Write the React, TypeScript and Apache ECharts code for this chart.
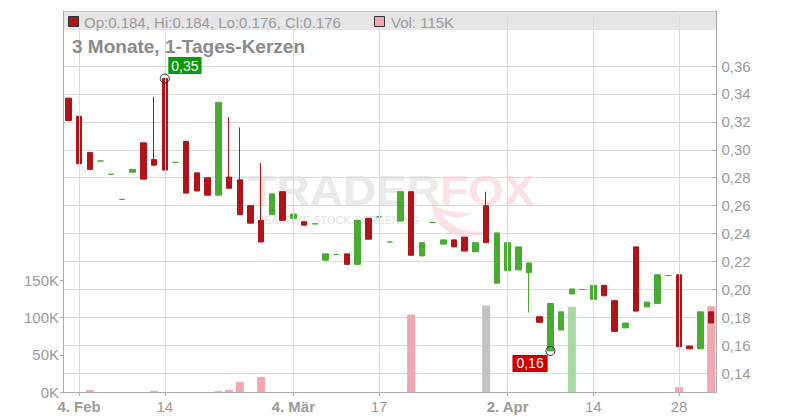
import React, { useEffect, useRef } from 'react';
import * as echarts from 'echarts';

// ---------- data ----------
const dates = [
  '2025-02-03', '2025-02-04', '2025-02-05', '2025-02-06', '2025-02-07', '2025-02-10', '2025-02-11', '2025-02-12', '2025-02-13', '2025-02-14',
  '2025-02-17', '2025-02-18', '2025-02-19', '2025-02-20', '2025-02-21', '2025-02-24', '2025-02-25', '2025-02-26', '2025-02-27', '2025-02-28',
  '2025-03-03', '2025-03-04', '2025-03-05', '2025-03-06', '2025-03-07', '2025-03-10', '2025-03-11', '2025-03-12', '2025-03-13', '2025-03-17',
  '2025-03-18', '2025-03-19', '2025-03-20', '2025-03-21', '2025-03-24', '2025-03-25', '2025-03-26', '2025-03-27', '2025-03-28', '2025-03-31',
  '2025-04-01', '2025-04-02', '2025-04-03', '2025-04-04', '2025-04-07', '2025-04-08', '2025-04-09', '2025-04-10', '2025-04-11', '2025-04-14',
  '2025-04-15', '2025-04-16', '2025-04-17', '2025-04-22', '2025-04-23', '2025-04-24', '2025-04-25', '2025-04-28', '2025-04-29', '2025-04-30',
  '2025-05-02',
];

const opens = [
  0.337, 0.324, 0.298, 0.292, 0.2825, 0.2645, 0.284, 0.305, 0.293, 0.351,
  0.291, 0.306, 0.2835, 0.280, 0.2675, 0.2805, 0.2785, 0.260, 0.2495, 0.2535,
  0.270, 0.251, 0.2485, 0.247, 0.221, 0.225, 0.2255, 0.218, 0.251, 0.252,
  0.234, 0.249, 0.270, 0.224, 0.248, 0.2325, 0.2355, 0.2375, 0.227, 0.260,
  0.2045, 0.2135, 0.214, 0.212, 0.1805, 0.156, 0.171, 0.1968, 0.200, 0.193,
  0.203, 0.192, 0.1725, 0.2305, 0.1875, 0.190, 0.210, 0.2105, 0.1595, 0.1575,
  0.184,
];
const closes = [
  0.321, 0.290, 0.286, 0.292, 0.2825, 0.2645, 0.286, 0.279, 0.289, 0.2855,
  0.291, 0.269, 0.2705, 0.2675, 0.334, 0.2725, 0.2535, 0.2475, 0.234, 0.2685,
  0.2495, 0.254, 0.246, 0.247, 0.2255, 0.225, 0.218, 0.2495, 0.236, 0.252,
  0.234, 0.270, 0.2245, 0.2335, 0.248, 0.2355, 0.2305, 0.2275, 0.2335, 0.2335,
  0.2405, 0.2335, 0.2305, 0.219, 0.1765, 0.190, 0.184, 0.2004, 0.200, 0.203,
  0.1955, 0.170, 0.176, 0.1845, 0.191, 0.2105, 0.210, 0.159, 0.1575, 0.184,
  0.176,
];
const lows = [
  0.321, 0.290, 0.286, 0.292, 0.2825, 0.2645, 0.284, 0.279, 0.289, 0.2855,
  0.291, 0.269, 0.2705, 0.2675, 0.2675, 0.2725, 0.2535, 0.2475, 0.234, 0.2535,
  0.2495, 0.251, 0.246, 0.247, 0.221, 0.225, 0.218, 0.218, 0.236, 0.252,
  0.234, 0.249, 0.2245, 0.224, 0.248, 0.2325, 0.2305, 0.2275, 0.227, 0.2335,
  0.2045, 0.2135, 0.214, 0.1835, 0.1765, 0.156, 0.171, 0.1968, 0.200, 0.193,
  0.1955, 0.170, 0.1725, 0.1845, 0.1875, 0.190, 0.210, 0.159, 0.1575, 0.1575,
  0.176,
];
const highs = [
  0.337, 0.324, 0.298, 0.292, 0.2825, 0.2645, 0.286, 0.305, 0.338, 0.351,
  0.291, 0.306, 0.2835, 0.280, 0.334, 0.3235, 0.316, 0.260, 0.2905, 0.2685,
  0.270, 0.254, 0.2485, 0.247, 0.2255, 0.225, 0.2255, 0.2495, 0.251, 0.252,
  0.234, 0.270, 0.270, 0.2335, 0.248, 0.2355, 0.2355, 0.2375, 0.2335, 0.270,
  0.2405, 0.2335, 0.2305, 0.219, 0.1805, 0.190, 0.184, 0.2004, 0.200, 0.203,
  0.203, 0.192, 0.176, 0.2305, 0.191, 0.2105, 0.210, 0.211, 0.1595, 0.184,
  0.184,
];
const volumes = [
  0, 0, 2700, 0, 0, 0, 0, 0, 1500, 0,
  0, 0, 0, 0, 1300, 3000, 13500, 0, 20000, 0,
  0, 0, 0, 0, 0, 0, 0, 0, 0, 0,
  0, 0, 104000, 0, 0, 0, 0, 0, 0, 116000,
  0, 0, 0, 0, 0, 0, 0, 114500, 0, 0,
  0, 0, 0, 0, 0, 0, 0, 6500, 0, 0,
  115000,
];

const tickDates = ['2025-02-04', '2025-02-14', '2025-03-04', '2025-03-17', '2025-04-02', '2025-04-14', '2025-04-28'];
const tickLabels = ['4. Feb', '14', '4. Mär', '17', '2. Apr', '14', '28'];

const TITLE = '3 Monate, 1-Tages-Kerzen';

// ---------- style ----------
const FONT = '"Liberation Sans", Arial, sans-serif';
const UP = '#4aab33';
const DOWN = '#b11418';
const VOL_UP = '#a9dba6';
const VOL_DOWN = '#f0a7b0';
const VOL_FLAT = '#c2c2c2';
const GRID_C = '#dcdcdc';
const AXIS_C = '#aaaaaa';
const TXT = '#9a9a9a';

echarts.graphic.registerShape(
  'swoosh',
  echarts.graphic.extendPath(
    'M0,0 C2,26 28,40 58,26 C34,30 14,20 8,6 C18,14 30,14 40,8 C26,8 12,6 0,0 Z',
    {}
  ) as any
);

export default function App() {
  const ref = useRef<HTMLDivElement>(null);

  useEffect(() => {
    if (!ref.current) return;
    const chart = echarts.init(ref.current, undefined, { renderer: 'svg' });

    const L = 63;
    const GW = 653.5;
    const n = dates.length;
    const last = n - 1;

    const candleData = dates.map((_, i) => {
      const col = closes[i] >= opens[i] ? UP : DOWN;
      return {
        value: [opens[i], closes[i], lows[i], highs[i]],
        itemStyle: { color: col, color0: col, borderColor: col, borderColor0: col },
      };
    });

    const volData = volumes.map((v, i) => {
      let c = VOL_UP;
      if (i > 0) {
        if (closes[i] < closes[i - 1]) c = VOL_DOWN;
        else if (closes[i] === closes[i - 1]) c = VOL_FLAT;
      }
      return { value: v, itemStyle: { color: c } };
    });

    let hiIdx = 0;
    let loIdx = 0;
    for (let i = 0; i < n; i++) {
      if (highs[i] > highs[hiIdx]) hiIdx = i;
      if (lows[i] < lows[loIdx]) loIdx = i;
    }
    const fmt2 = (v: number) => v.toFixed(2).replace('.', ',');
    const fmt3 = (v: number) => v.toFixed(3);

    const tickIdx = tickDates.map((d) => dates.indexOf(d));

    const legendText = `Op:${fmt3(opens[last])}, Hi:${fmt3(highs[last])}, Lo:${fmt3(lows[last])}, Cl:${fmt3(closes[last])}`;
    const volText = `Vol: ${Math.round(volumes[last] / 1000)}K`;

    const option: any = {
      animation: false,
      textStyle: { fontFamily: FONT },
      grid: [
        { left: L, top: 11, width: GW, height: 381 },
        { left: L, top: 66, width: GW, height: 307.3 },
        { left: L, top: 280.3, width: GW, height: 111.7 },
      ],
      xAxis: [
        {
          type: 'category',
          gridIndex: 0,
          data: dates,
          boundaryGap: true,
          axisLine: { show: true, lineStyle: { color: AXIS_C } },
          axisTick: {
            show: true,
            alignWithLabel: true,
            length: 4,
            interval: (i: number) => tickIdx.includes(i),
            lineStyle: { color: AXIS_C },
          },
          axisLabel: {
            interval: (i: number) => tickIdx.includes(i),
            margin: 7,
            formatter: (v: string) => {
              const k = tickDates.indexOf(v);
              if (k < 0) return '';
              const t = tickLabels[k];
              return t.includes('.') ? `{b|${t}}` : `{n|${t}}`;
            },
            rich: {
              b: { fontFamily: FONT, fontSize: 15, fontWeight: 'bold', color: TXT },
              n: { fontFamily: FONT, fontSize: 15, color: TXT },
            },
          },
          splitLine: { show: false },
        },
        { type: 'category', gridIndex: 1, data: dates, boundaryGap: true, show: false },
        { type: 'category', gridIndex: 2, data: dates, boundaryGap: true, show: false },
      ],
      yAxis: [
        {
          type: 'value', gridIndex: 0, position: 'left', min: 0, max: 1,
          axisLine: { show: true, lineStyle: { color: AXIS_C } },
          axisTick: { show: false }, axisLabel: { show: false }, splitLine: { show: false },
        },
        {
          type: 'value', gridIndex: 0, position: 'right', min: 0, max: 1,
          axisLine: { show: true, lineStyle: { color: AXIS_C } },
          axisTick: { show: false }, axisLabel: { show: false }, splitLine: { show: false },
        },
        {
          type: 'value', gridIndex: 1, position: 'right', min: 0.14, max: 0.36, interval: 0.02,
          axisLine: { show: false },
          axisTick: { show: true, inside: true, length: 4, lineStyle: { color: AXIS_C } },
          axisLabel: {
            formatter: (v: number) => fmt2(v),
            color: TXT, fontSize: 15, fontFamily: FONT, margin: 5,
          },
          splitLine: { show: true, lineStyle: { color: GRID_C, width: 1 } },
        },
        {
          type: 'value', gridIndex: 2, position: 'left', min: 0, max: 150000, interval: 50000,
          axisLine: { show: false },
          axisTick: { show: true, length: 3, lineStyle: { color: AXIS_C } },
          axisLabel: {
            formatter: (v: number) => `${Math.round(v / 1000)}K`,
            color: TXT, fontSize: 15, fontFamily: FONT, margin: 4,
          },
          splitLine: { show: false },
        },
      ],
      graphic: [
        {
          type: 'rect', z: 0, silent: true,
          shape: { x: L, y: 11, width: GW, height: 19 },
          style: { fill: '#e6e6e6' },
        },
        {
          type: 'line', z: 0, silent: true,
          shape: { x1: L, y1: 11.5, x2: L + GW, y2: 11.5 },
          style: { stroke: '#c6c6c6', lineWidth: 1 },
        },
        {
          type: 'text', z: 0, silent: true, x: 440, y: 190, scaleX: 1.07, scaleY: 1,
          style: { text: 'TRADER', fill: '#eaeaea', fontSize: 43, fontWeight: 'bold', fontFamily: FONT, align: 'right', verticalAlign: 'middle' },
        },
        {
          type: 'text', z: 0, silent: true, x: 440, y: 190, scaleX: 1.07, scaleY: 1,
          style: { text: 'FOX', fill: '#fde2e5', fontSize: 43, fontWeight: 'bold', fontFamily: FONT, align: 'left', verticalAlign: 'middle' },
        },
        {
          type: 'swoosh', z: 0, silent: true, x: 432, y: 205, scaleX: 1, scaleY: 1,
          style: { fill: '#fde2e5' },
        },
        {
          type: 'text', z: 0, silent: true, x: 256, y: 219.5,
          style: { text: 'REALTIME STOCK SCREENING', fill: '#e2e2e2', fontSize: 11, fontFamily: FONT, align: 'left', verticalAlign: 'middle' },
        },
        {
          type: 'rect', z: 10, silent: true,
          shape: { x: 68.5, y: 16.5, width: 10, height: 10 },
          style: { fill: DOWN, stroke: '#333', lineWidth: 1 },
        },
        {
          type: 'text', z: 10, silent: true, x: 84, y: 22,
          style: { text: legendText, fill: TXT, fontSize: 15, fontFamily: FONT, align: 'left', verticalAlign: 'middle' },
        },
        {
          type: 'rect', z: 10, silent: true,
          shape: { x: 374.5, y: 16.5, width: 10, height: 10 },
          style: { fill: VOL_DOWN, stroke: '#333', lineWidth: 1 },
        },
        {
          type: 'text', z: 10, silent: true, x: 391, y: 22,
          style: { text: volText, fill: TXT, fontSize: 15, fontFamily: FONT, align: 'left', verticalAlign: 'middle' },
        },
        {
          type: 'text', z: 10, silent: true, x: 72, y: 46.5,
          style: { text: TITLE, fill: '#8a8a8a', fontSize: 19, fontWeight: 'bold', fontFamily: FONT, align: 'left', verticalAlign: 'middle' },
        },
      ],
      series: [
        {
          type: 'line',
          xAxisIndex: 0,
          yAxisIndex: 0,
          data: [],
          z: 1,
          silent: true,
          markLine: {
            silent: true,
            symbol: ['none', 'none'],
            label: { show: false },
            emphasis: { disabled: true },
            lineStyle: { color: GRID_C, type: 'solid', width: 1 },
            data: tickDates.map((d) => ({ xAxis: d })),
          },
        },
        {
          type: 'bar',
          xAxisIndex: 2,
          yAxisIndex: 3,
          barWidth: 8,
          z: 2,
          silent: true,
          data: volData,
        },
        {
          type: 'candlestick',
          xAxisIndex: 1,
          yAxisIndex: 2,
          barWidth: 6,
          z: 3,
          silent: true,
          itemStyle: { borderWidth: 1 },
          data: candleData,
        },
        {
          type: 'scatter',
          xAxisIndex: 1,
          yAxisIndex: 2,
          z: 5,
          silent: true,
          symbol: 'circle',
          symbolSize: 9,
          itemStyle: { color: 'rgba(255,255,255,0)', borderColor: '#222', borderWidth: 1, opacity: 1 },
          data: [
            {
              value: [hiIdx, highs[hiIdx]],
              label: {
                show: true, formatter: fmt2(highs[hiIdx]), position: [8.5, -16.5], align: 'left', verticalAlign: 'top',
                color: '#fff', fontSize: 14, fontFamily: FONT, lineHeight: 15, backgroundColor: '#0b990b', padding: [1, 3, 1, 3],
              },
            },
            {
              value: [loIdx, lows[loIdx]],
              label: {
                show: true, formatter: fmt2(lows[loIdx]), position: [-33, 9], align: 'left', verticalAlign: 'top',
                color: '#fff', fontSize: 14, fontFamily: FONT, lineHeight: 15, backgroundColor: '#cc0000', padding: [1, 4, 1, 4],
              },
            },
          ],
        },
      ],
    };

    chart.setOption(option);
    return () => chart.dispose();
  }, []);

  return (
    <div
      ref={ref}
      style={{ position: 'absolute', left: 0, top: 0, width: 800, height: 420, background: '#fff' }}
    />
  );
}
